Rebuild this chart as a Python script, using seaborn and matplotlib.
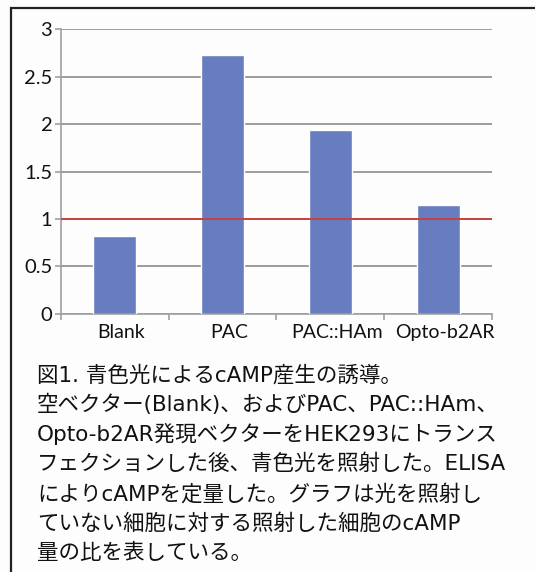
import matplotlib
matplotlib.use("Agg")
import matplotlib.pyplot as plt
import matplotlib.transforms as mtransforms
import seaborn as sns
import pandas as pd
from matplotlib.patches import Rectangle

categories = ["Blank", "PAC", "PAC::HAm", "Opto-b2AR"]
values = [0.82, 2.725, 1.94, 1.145]
yticks = [0, 0.5, 1, 1.5, 2, 2.5, 3]
ytick_labels = ["0", "0.5", "1", "1.5", "2", "2.5", "3"]
reference_value = 1.0
caption_lines = [
    "図1. 青色光によるcAMP産生の誘導。",
    "空ベクター(Blank)、およびPAC、PAC::HAm、",
    "Opto-b2AR発現ベクターをHEK293にトランス",
    "フェクションした後、青色光を照射した。ELISA",
    "によりcAMPを定量した。グラフは光を照射し",
    "ていない細胞に対する照射した細胞のcAMP",
    "量の比を表している。",
]

sns.set_theme(style="white")
plt.rcParams["font.family"] = ["Lato", "Noto Sans CJK JP", "DejaVu Sans"]

W, H = 535, 572
fig = plt.figure(figsize=(W / 100, H / 100), dpi=100, facecolor="#fdfdfd")
ax = fig.add_axes([60.7 / W, 1 - 313.8 / H, (492 - 60.7) / W, (313.8 - 29.3) / H])
ax.set_facecolor("#fdfdfd")

df = pd.DataFrame({"cat": categories, "val": values})
sns.barplot(data=df, x="cat", y="val", color="#687cc0", width=0.40,
            saturation=1, ax=ax, zorder=3)

ax.axhline(reference_value, color="#c8423c", lw=1.4, zorder=4)

ax.set_xlim(-0.5, 3.5)
ax.set_ylim(0, 3)
ax.set_yticks(yticks)
ax.set_yticklabels(ytick_labels)
ax.yaxis.grid(True, color="#8c8c8c", lw=1.2, zorder=0)
ax.set_axisbelow(True)
ax.set_xlabel("")
ax.set_ylabel("")

for s in ["top", "right"]:
    ax.spines[s].set_visible(False)
for s in ["left", "bottom"]:
    ax.spines[s].set_visible(True)
    ax.spines[s].set_color("#a0a0a0")
    ax.spines[s].set_linewidth(1.2)

ax.tick_params(axis="y", which="major", length=4, width=1.2, color="#a0a0a0",
               direction="out", left=True, pad=2, labelsize=14.5, labelcolor="#111111")
ax.tick_params(axis="x", which="major", length=0, pad=7, labelsize=14, labelcolor="#111111")
ax.set_xticks([-0.5, 0.5, 1.5, 2.5, 3.5], minor=True)
ax.tick_params(axis="x", which="minor", length=4, width=1.2, color="#a0a0a0",
               direction="out", bottom=True)

# reference places category labels slightly right of bar centres
shift = mtransforms.ScaledTranslation(7 / 100, 0, fig.dpi_scale_trans)
for lbl in ax.get_xticklabels():
    lbl.set_transform(lbl.get_transform() + shift)

# caption
y0 = 375
for i, line in enumerate(caption_lines):
    fig.text(37 / W, 1 - (y0 + i * 29.7) / H, line, ha="left", va="center",
             fontsize=15.5, color="#111111",
             family=["DejaVu Sans", "Noto Sans CJK JP"])

# outer frame (left and top edges visible)
fig.patches.append(Rectangle((11 / W, -0.05), 1.2, 1 - 8 / H + 0.05,
                             transform=fig.transFigure, fill=False,
                             edgecolor="#222222", lw=1.6))

fig.savefig("out.png", dpi=100, facecolor=fig.get_facecolor())
